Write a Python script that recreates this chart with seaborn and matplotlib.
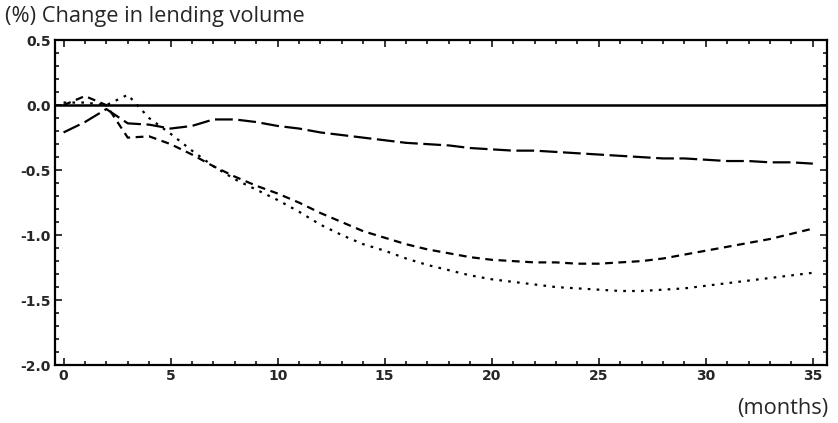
import numpy as np
import pandas as pd
import matplotlib
matplotlib.use("Agg")
import matplotlib.pyplot as plt
import seaborn as sns
from matplotlib.ticker import MultipleLocator, FormatStrFormatter

# monthly responses
months = list(range(36))
long_dash = [-0.21, -0.13, -0.03, -0.14, -0.15, -0.18, -0.16, -0.11, -0.11, -0.13,
             -0.16, -0.18, -0.21, -0.23, -0.25, -0.27, -0.29, -0.30, -0.31, -0.33,
             -0.34, -0.35, -0.35, -0.36, -0.37, -0.38, -0.39, -0.40, -0.41, -0.41,
             -0.42, -0.43, -0.43, -0.44, -0.44, -0.45]
short_dash = [0.00, 0.07, 0.00, -0.25, -0.24, -0.30, -0.38, -0.47, -0.55, -0.62,
              -0.68, -0.75, -0.83, -0.90, -0.97, -1.02, -1.07, -1.11, -1.14, -1.17,
              -1.19, -1.20, -1.21, -1.21, -1.22, -1.22, -1.21, -1.20, -1.18, -1.15,
              -1.12, -1.09, -1.06, -1.03, -0.99, -0.95]
dotted = [0.02, 0.02, 0.00, 0.08, -0.10, -0.22, -0.35, -0.47, -0.57, -0.65,
          -0.73, -0.82, -0.92, -1.00, -1.07, -1.12, -1.18, -1.23, -1.27, -1.31,
          -1.34, -1.36, -1.38, -1.40, -1.41, -1.42, -1.43, -1.43, -1.42, -1.41,
          -1.39, -1.37, -1.35, -1.33, -1.31, -1.29]

sns.set_style("ticks")
plt.rcParams['font.family'] = ['DejaVu Sans']
plt.rcParams['xtick.direction'] = 'in'
plt.rcParams['ytick.direction'] = 'in'
plt.rcParams['axes.unicode_minus'] = False

fig = plt.figure(figsize=(8.38, 4.23), dpi=100)
ax = fig.add_axes([0.0656, 0.137, 0.921, 0.768])

ax.axhline(0, color='black', lw=1.8)
sns.lineplot(x=months, y=long_dash, color='black', lw=1.6, linestyle=(0, (8, 2.5)), ax=ax)
sns.lineplot(x=months, y=short_dash, color='black', lw=1.6, linestyle=(0, (3.5, 2.5)), ax=ax)
sns.lineplot(x=months, y=dotted, color='black', lw=1.6, linestyle=(0, (1.2, 2.8)), ax=ax)

ax.set_xlim(-0.4, 35.65)
ax.set_ylim(-2.0, 0.5)
ax.xaxis.set_major_locator(MultipleLocator(5))
ax.xaxis.set_minor_locator(MultipleLocator(1))
ax.yaxis.set_major_locator(MultipleLocator(0.5))
ax.yaxis.set_minor_locator(MultipleLocator(0.1))
ax.yaxis.set_major_formatter(FormatStrFormatter('%.1f'))
ax.tick_params(which='both', top=True, right=True, labelsize=10, width=1.3, pad=3)
ax.tick_params(which='major', length=5)
ax.tick_params(which='minor', length=3)
for lab in ax.get_xticklabels() + ax.get_yticklabels():
    lab.set_fontweight('bold')
for s in ax.spines.values():
    s.set_linewidth(1.6)
    s.set_color('black')

fig.text(0.006, 0.96, "(%) Change in lending volume", fontsize=15.7,
         family=['Open Sans', 'DejaVu Sans'], va='center', ha='left')
fig.text(0.989, 0.035, "(months)", fontsize=15.7,
         family=['Open Sans', 'DejaVu Sans'], va='center', ha='right')

fig.savefig('out.png', dpi=100)
